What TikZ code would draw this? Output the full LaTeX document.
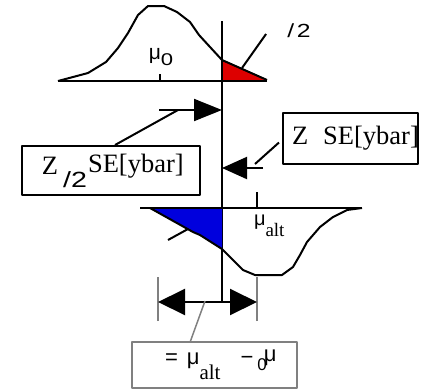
\documentclass[tikz,border=0pt]{standalone}
\usepackage{fontspec}
\setmainfont{Liberation Serif}
\setsansfont{Liberation Sans}
\usetikzlibrary{arrows.meta,positioning}
\definecolor{tailred}{HTML}{DD0000}
\definecolor{tailblue}{HTML}{0000DD}
\definecolor{dimgray}{HTML}{808080}
\newcommand{\fsz}[1]{\fontsize{#1}{#1}\selectfont}
\newcommand{\wide}[1]{\scalebox{1.3}[1]{#1}}

\begin{document}
\begin{tikzpicture}[x=1pt, y=-1pt, line width=2pt, line join=round,
  zbox/.style={draw, inner xsep=0pt, inner ysep=0pt, font=\fsz{26.5}},
  bigarrow/.style={-{Triangle[length=#1, width=22pt]}},
  bigarrow/.default=28pt]
  \useasboundingbox (0,0) rectangle (423,389);

  % Null distribution with upper tail
  \fill[tailred] (222,60) -- (240,68) -- (267,81) -- (222,81) -- cycle;
  \draw (58,81) -- (88,73) -- (106,62) -- (118,48) -- (128,33) -- (138,15) -- (148,6) -- (164,6) -- (177,12) -- (190,22) -- (199,35) -- (210,47) -- (222,60) -- (240,68) -- (267,80);
  \draw (58,81) -- (267,81);
  \draw (160,74) -- (160,81);
  \node[font=\sffamily\fsz{21}] (mu0) at (161,57) {μ\raisebox{-6pt}{\fsz{17}\wide{0}}};
  \node[font=\sffamily\fsz{19}] (halfalpha) at (299,31) {\wide{/\kern2pt2}};
  \coordinate (redtail) at (242,68);
  \draw (redtail) -- ([shift={(-17,3)}]halfalpha.west);

  % Critical value
  \coordinate (crittop) at (222,21);
  \coordinate (critbot) at (222,302);
  \draw (crittop) -- (critbot);

  % Distance to critical value from the null mean
  \node[zbox, minimum height=49pt] (zhalf) at (111,170.5)
    {\makebox[178pt][l]{\kern20pt Z\kern5pt\raisebox{-13pt}{\sffamily\fsz{22}\wide{/2}}\kern1pt\raisebox{2pt}{SE[ybar]}}};
  \coordinate (arrowA) at (159,110);
  \coordinate (kneeA) at (178,110);
  \draw[bigarrow] (arrowA) -- (crittop |- arrowA);
  \draw ([xshift=4pt]zhalf.north) -- (kneeA);

  % Distance to critical value from the alternative mean
  \node[zbox, minimum height=51pt] (zfull) at (350.5,138.5)
    {\makebox[135pt][l]{\kern9pt Z\kern15pt SE[ybar]}};
  \coordinate (arrowB) at (263,168);
  \coordinate (kneeB) at (255,164);
  \draw[bigarrow=25pt] (arrowB) -- (crittop |- arrowB);
  \draw ([shift={(-3,4)}]zfull.west) -- (kneeB);

  % Alternative distribution with lower tail
  \fill[tailblue] (150,208) -- (193,232) -- (200,235) -- (222,249) -- (222,208) -- cycle;
  \draw (150,208) -- (193,232) -- (200,235) -- (222,249) -- (233,260) -- (243,270) -- (255,275) -- (282,275) -- (293,267) -- (300,255) -- (307,242) -- (320,227) -- (333,217) -- (347,210) -- (362,208);
  \draw (140,208) -- (362,208);
  \draw (257,192) -- (257,208);
  \node[anchor=north west, inner sep=0pt] (mualt) at (253,214)
    {{\sffamily\fsz{20}μ}\raisebox{-11pt}{\fsz{19}alt}};
  \coordinate (bluetail) at (188,229);
  \draw (bluetail) -- (168,240);

  % Difference of the means
  \coordinate (leftend) at (158,302);
  \coordinate (rightend) at (257,302);
  \draw[dimgray, line width=1.5pt] ([yshift=-19pt]leftend) -- ([yshift=25pt]leftend);
  \draw[dimgray, line width=1.5pt] ([yshift=-19pt]rightend) -- ([yshift=25pt]rightend);
  \draw[{Triangle[length=27pt, width=26pt]}-{Triangle[length=27pt, width=26pt]}] (leftend) -- (rightend);
  \node[zbox, draw=dimgray, minimum height=46pt] (delta) at (214.5,365)
    {\makebox[165pt][l]{\kern33pt{\sffamily\fsz{22}=\kern9pt μ}\raisebox{-15pt}{\fsz{21}alt}\kern20pt{\sffamily\fsz{22}−\kern4pt\raisebox{-6pt}{\fsz{17}0}\kern-3pt\raisebox{3pt}{μ}}}};
  \draw[dimgray, line width=1.5pt] ([xshift=-24pt]delta.north) -- (205,301);
\end{tikzpicture}
\end{document}
